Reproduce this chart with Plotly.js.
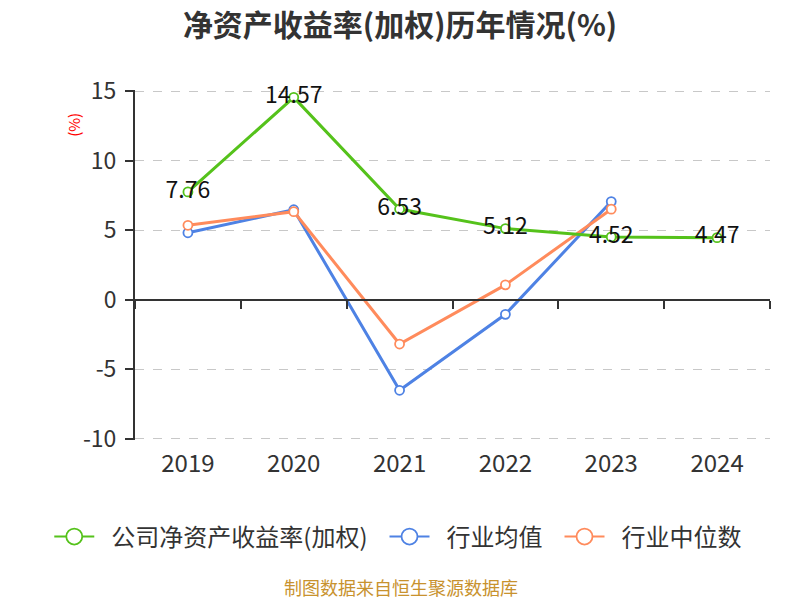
<!DOCTYPE html>
<html><head><meta charset="utf-8">
<script src="https://cdn.plot.ly/plotly-3.0.1.min.js"></script>
<style>body{margin:0}#c{width:800px;height:600px}</style>
</head><body><div id="c"></div>
<script>
var years = ['2019','2020','2021','2022','2023','2024'];
var companyRoe = [7.76, 14.57, 6.53, 5.12, 4.52, 4.47];
var industryAvg = [4.82, 6.48, -6.52, -1.05, 7.07, null];
var industryMedian = [5.36, 6.34, -3.19, 1.07, 6.52, null];
var seriesNames = ['公司净资产收益率(加权)', '行业均值', '行业中位数'];
var yTicks = [-10, -5, 0, 5, 10, 15];
var yTickText = ['-10', '-5', '0', '5', '10', '15'];

var FONT = '"Noto Sans CJK SC", "Noto Sans", sans-serif';
var GREEN = '#55c21b', BLUE = '#4e82e4', ORANGE = '#ff8b5c';
function mk(color, size){return {symbol:'circle', size:size, color:'#ffffff', line:{width:1.8, color:color}};}
function dataTrace(y, color, name, extra){
  var t = {x:years, y:y, name:name, mode:'lines+markers', type:'scatter', showlegend:false,
    line:{color:color, width:3}, marker:mk(color, 9), cliponaxis:false};
  for (var k in extra) t[k] = extra[k];
  return t;
}
function legendTrace(color, name){
  return {x:[null], y:[null], name:'\u2002' + name + '\u2002', mode:'lines+markers', type:'scatter',
    line:{color:color, width:2}, marker:mk(color, 16)};
}
var traces = [
  dataTrace(industryAvg, BLUE, seriesNames[1], {}),
  dataTrace(industryMedian, ORANGE, seriesNames[2], {}),
  dataTrace(companyRoe, GREEN, seriesNames[0], {mode:'lines+markers+text',
    text:companyRoe.map(function(v){return v.toFixed(2);}), textposition:'middle center',
    textfont:{size:23, color:'#111', family:FONT}}),
  legendTrace(GREEN, seriesNames[0]),
  legendTrace(BLUE, seriesNames[1]),
  legendTrace(ORANGE, seriesNames[2]),
  {x:years, y:years.map(function(){return null;}), xaxis:'x2', yaxis:'y', showlegend:false, hoverinfo:'skip', mode:'lines', type:'scatter'}
];
var layout = {
  width:800, height:600,
  margin:{l:135, r:30, t:90, b:160},
  paper_bgcolor:'#ffffff', plot_bgcolor:'#ffffff',
  font:{family:FONT, color:'#333'},
  title:{text:'<b>净资产收益率(加权)历年情况(%)</b>', x:0.5, xref:'container', xanchor:'center',
         y:0.958, yref:'container', yanchor:'middle', font:{size:30, color:'#333', family:FONT}},
  xaxis:{type:'category', categoryarray:years, range:[-0.5,5.5], showline:false, showgrid:false, zeroline:false,
         ticks:'', tickfont:{size:24, color:'#333'}, ticklabelstandoff:7},
  xaxis2:{type:'category', categoryarray:years, range:[-0.5,5.5], overlaying:'x', anchor:'free', position:0.4,
          showline:true, linecolor:'#333', linewidth:2, ticks:'outside', tickson:'boundaries', ticklen:8,
          tickcolor:'#333', tickwidth:2, showticklabels:false, showgrid:false, zeroline:false},
  yaxis:{range:[-10.1,15.1], tickvals:yTicks, ticktext:yTickText, showline:true, linecolor:'#333', linewidth:2, ticks:'outside',
         ticklen:8, tickcolor:'#333', tickwidth:2, tickfont:{size:23, color:'#333'}, ticklabelstandoff:4,
         showgrid:true, gridcolor:'#c8c8c8', griddash:'dash', gridwidth:1.3, zeroline:false},
  legend:{orientation:'h', x:-0.135, xanchor:'left', y:-0.277, yanchor:'middle',
          font:{size:24, color:'#333'}, itemwidth:40, traceorder:'normal'},
  showlegend:true,
  annotations:[
    {text:'(%)', xref:'paper', yref:'paper', x:-0.098, y:0.9, xanchor:'center', yanchor:'middle', textangle:-90, showarrow:false,
     font:{size:15, color:'#ff0000'}},
    {text:'制图数据来自恒生聚源数据库', xref:'paper', yref:'paper', x:0.419, y:-0.42, xanchor:'center', yanchor:'middle',
     showarrow:false, font:{size:18, color:'#c8922e'}}
  ]
};
Plotly.newPlot('c', traces, layout, {staticPlot:true});
</script></body></html>
